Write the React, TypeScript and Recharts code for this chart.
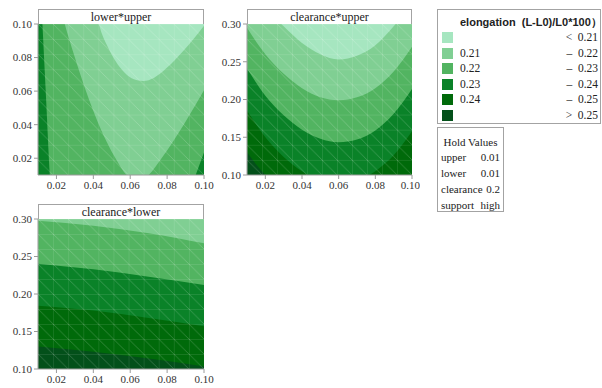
import React from 'react';
import { ComposedChart, Area, XAxis, YAxis, ReferenceArea } from 'recharts';

type Pt = [number, number];

// fill colours, from lowest elongation (<0.21) to highest (>0.25)
const bandColors = ['#a6e6c0', '#80cf93', '#52b461', '#0a8228', '#006a0a', '#03501a'];
const legendLow = ['', '0.21', '0.22', '0.23', '0.24', ''];
const legendHigh = ['<  0.21', '–  0.22', '–  0.23', '–  0.24', '–  0.25', '>  0.25'];

const holdNames = ['upper', 'lower', 'clearance', 'support'];
const holdValues = ['0.01', '0.01', '0.2', 'high'];

const smallTicks = [0.02, 0.04, 0.06, 0.08, 0.1];
const clearanceTicks = [0.1, 0.15, 0.2, 0.25, 0.3];

// lower*upper : x = upper, y = lower
const luLevel23: Pt[] = [
  [0.01, 0.154], [0.0124, 0.1], [0.0144, 0.055], [0.0164, 0.01], [0.02, -0.03],
  [0.05, -0.08], [0.08, -0.04], [0.0955, 0.01], [0.1, 0.0234],
];
const luLevel22: Pt[] = [
  [0.01, 0.17], [0.0245, 0.1], [0.03, 0.08], [0.036, 0.06], [0.043, 0.04], [0.052, 0.02],
  [0.058, 0.01], [0.064, 0.006], [0.07, 0.01], [0.077, 0.02], [0.089, 0.04], [0.1, 0.0605],
];
const luLevel21: Pt[] = [
  [0.01, 0.3], [0.04, 0.115], [0.043, 0.1], [0.048, 0.086], [0.052, 0.078], [0.057, 0.071],
  [0.062, 0.067], [0.067, 0.066], [0.073, 0.068], [0.08, 0.074], [0.088, 0.083],
  [0.095, 0.092], [0.1, 0.099],
];

// clearance*upper : x = upper, y = clearance
const cuLevel25: Pt[] = [
  [0.01, 0.13], [0.015, 0.114], [0.02, 0.1], [0.03, 0.075], [0.06, 0.03], [0.1, 0.095],
];
const cuLevel24: Pt[] = [
  [0.01, 0.1855], [0.02, 0.15], [0.03, 0.124], [0.04, 0.105], [0.05, 0.093],
  [0.06, 0.089], [0.07, 0.093], [0.08, 0.105], [0.09, 0.126], [0.1, 0.158],
];
const cuLevel23: Pt[] = [
  [0.01, 0.241], [0.02, 0.205], [0.03, 0.179], [0.04, 0.16], [0.05, 0.148],
  [0.06, 0.1435], [0.07, 0.147], [0.08, 0.159], [0.09, 0.181], [0.1, 0.214],
];
const cuLevel22: Pt[] = [
  [0.01, 0.295], [0.02, 0.26], [0.03, 0.234], [0.04, 0.215], [0.05, 0.203],
  [0.06, 0.199], [0.07, 0.203], [0.08, 0.215], [0.09, 0.237], [0.1, 0.27],
];
const cuLevel21: Pt[] = [
  [0.01, 0.355], [0.02, 0.322], [0.03, 0.297], [0.04, 0.275], [0.05, 0.26],
  [0.06, 0.253], [0.07, 0.258], [0.08, 0.272], [0.09, 0.297], [0.1, 0.33],
];

// clearance*lower : x = lower, y = clearance
const clLevel25: Pt[] = [[0.01, 0.13], [0.04, 0.123], [0.07, 0.114], [0.1, 0.1035]];
const clLevel24: Pt[] = [[0.01, 0.1845], [0.04, 0.178], [0.07, 0.168], [0.1, 0.157]];
const clLevel23: Pt[] = [[0.01, 0.2405], [0.04, 0.233], [0.07, 0.223], [0.1, 0.212]];
const clLevel22: Pt[] = [[0.01, 0.2978], [0.04, 0.291], [0.07, 0.281], [0.1, 0.2676]];

const serif = 'Liberation Serif, Tinos, Times New Roman, Times, DejaVu Serif, serif';
const sans = 'Liberation Sans, Arial, Helvetica, sans-serif';

interface Layer { line: Pt[]; color: string }

interface PanelProps {
  id: string;
  title: string;
  left: number;
  top: number;
  width: number;
  height: number;
  yAxisWidth: number;
  marginRight: number;
  yDomain: [number, number];
  yTicks: number[];
  base: string;
  layers: Layer[];
}

const tickStyle = { fontSize: 11, fontFamily: serif, fill: '#333' };
const axisStroke = '#9a9a9a';

function ContourPanel(p: PanelProps) {
  const plotLeft = p.yAxisWidth;
  const plotWidth = p.width - p.yAxisWidth - p.marginRight;
  const cellW = plotWidth / 11;
  const cellH = (p.height - 24 - 20) / 10;
  return (
    <div style={{ position: 'absolute', left: p.left, top: p.top, width: p.width, height: p.height }}>
      <div
        style={{
          position: 'absolute', left: plotLeft, top: 9, width: plotWidth, height: 16,
          boxSizing: 'border-box', border: '1px solid #a3a3a3', background: '#fff',
          fontFamily: serif, fontSize: 12, lineHeight: '14px', textAlign: 'center', color: '#222',
        }}
      >
        {p.title}
      </div>
      <ComposedChart
        width={p.width}
        height={p.height}
        margin={{ top: 24, right: p.marginRight, bottom: 0, left: 0 }}
        style={{ fontFamily: serif }}
      >
        <defs>
          <pattern id={p.id} patternUnits="userSpaceOnUse" x={plotLeft} y={24} width={cellW} height={cellH}>
            <path
              d={`M0 0 H${cellW} M0 0 V${cellH} M0 0 L${cellW} ${cellH}`}
              stroke="#ffffff"
              strokeOpacity={0.3}
              strokeWidth={0.6}
              fill="none"
            />
          </pattern>
        </defs>
        <XAxis
          dataKey="x"
          type="number"
          domain={[0.01, 0.1]}
          allowDataOverflow
          ticks={smallTicks}
          tickFormatter={(v: number) => v.toFixed(2)}
          tick={tickStyle}
          tickSize={4}
          height={20}
          stroke={axisStroke}
        />
        <YAxis
          type="number"
          domain={p.yDomain}
          allowDataOverflow
          ticks={p.yTicks}
          tickFormatter={(v: number) => v.toFixed(2)}
          tick={tickStyle}
          tickSize={4}
          width={p.yAxisWidth}
          stroke={axisStroke}
        />
        <ReferenceArea
          x1={0.01} x2={0.1} y1={p.yDomain[0]} y2={p.yDomain[1]}
          fill={p.base} fillOpacity={1} stroke="none"
        />
        {p.layers.map((l, i) => (
          <Area
            key={i}
            data={l.line.map(([x, y]) => ({ x, y }))}
            dataKey="y"
            type="monotone"
            baseValue="dataMax"
            fill={l.color}
            fillOpacity={1}
            stroke="none"
            isAnimationActive={false}
          />
        ))}
        <ReferenceArea
          x1={0.01} x2={0.1} y1={p.yDomain[0]} y2={p.yDomain[1]}
          fill={`url(#${p.id})`} fillOpacity={1} stroke="none"
        />
      </ComposedChart>
    </div>
  );
}

function Legend() {
  return (
    <div
      style={{
        position: 'absolute', left: 437, top: 9, width: 164, height: 115,
        boxSizing: 'border-box', border: '1px solid #a3a3a3', background: '#fff',
      }}
    >
      <div
        style={{
          position: 'absolute', left: 22, top: 5, whiteSpace: 'pre',
          fontFamily: sans, fontWeight: 'bold', fontSize: 11, color: '#222',
        }}
      >
        {'elongation  (L-L0)/L0*100）'}
      </div>
      {bandColors.map((c, i) => (
        <React.Fragment key={i}>
          <div
            style={{
              position: 'absolute', left: 4, top: 22 + i * 15.6, width: 11, height: 11, background: c,
            }}
          />
          <div
            style={{
              position: 'absolute', left: 22, top: 20 + i * 15.6, fontFamily: serif, fontSize: 11.5,
              lineHeight: '14px', color: '#222',
            }}
          >
            {legendLow[i]}
          </div>
          <div
            style={{
              position: 'absolute', right: 2, top: 20 + i * 15.6, fontFamily: serif, fontSize: 11.5,
              lineHeight: '14px', color: '#222', whiteSpace: 'pre',
            }}
          >
            {legendHigh[i]}
          </div>
        </React.Fragment>
      ))}
    </div>
  );
}

function HoldValues() {
  return (
    <div
      style={{
        position: 'absolute', left: 437, top: 127, width: 67, height: 85,
        boxSizing: 'border-box', border: '1px solid #a3a3a3', background: '#fff',
        fontFamily: serif, fontSize: 11, color: '#222',
      }}
    >
      <div style={{ position: 'absolute', left: 0, right: 0, top: 7, textAlign: 'center', lineHeight: '14px' }}>
        Hold Values
      </div>
      {holdNames.map((n, i) => (
        <React.Fragment key={n}>
          <div style={{ position: 'absolute', left: 3, top: 22 + i * 16, lineHeight: '14px' }}>{n}</div>
          <div style={{ position: 'absolute', right: 3, top: 22 + i * 16, lineHeight: '14px' }}>{holdValues[i]}</div>
        </React.Fragment>
      ))}
    </div>
  );
}

export default function App() {
  return (
    <div style={{ position: 'absolute', left: 0, top: 0, width: 602, height: 388, background: '#fff' }}>
      <ContourPanel
        id="mesh-lu"
        title="lower*upper"
        left={0}
        top={0}
        width={215}
        height={195}
        yAxisWidth={38}
        marginRight={11}
        yDomain={[0.01, 0.1]}
        yTicks={smallTicks}
        base={bandColors[3]}
        layers={[
          { line: luLevel23, color: bandColors[2] },
          { line: luLevel22, color: bandColors[1] },
          { line: luLevel21, color: bandColors[0] },
        ]}
      />
      <ContourPanel
        id="mesh-cu"
        title="clearance*upper"
        left={215}
        top={0}
        width={205}
        height={195}
        yAxisWidth={32}
        marginRight={8}
        yDomain={[0.1, 0.3]}
        yTicks={clearanceTicks}
        base={bandColors[5]}
        layers={[
          { line: cuLevel25, color: bandColors[4] },
          { line: cuLevel24, color: bandColors[3] },
          { line: cuLevel23, color: bandColors[2] },
          { line: cuLevel22, color: bandColors[1] },
          { line: cuLevel21, color: bandColors[0] },
        ]}
      />
      <ContourPanel
        id="mesh-cl"
        title="clearance*lower"
        left={0}
        top={195}
        width={215}
        height={194}
        yAxisWidth={38}
        marginRight={11}
        yDomain={[0.1, 0.3]}
        yTicks={clearanceTicks}
        base={bandColors[5]}
        layers={[
          { line: clLevel25, color: bandColors[4] },
          { line: clLevel24, color: bandColors[3] },
          { line: clLevel23, color: bandColors[2] },
          { line: clLevel22, color: bandColors[1] },
        ]}
      />
      <Legend />
      <HoldValues />
    </div>
  );
}
